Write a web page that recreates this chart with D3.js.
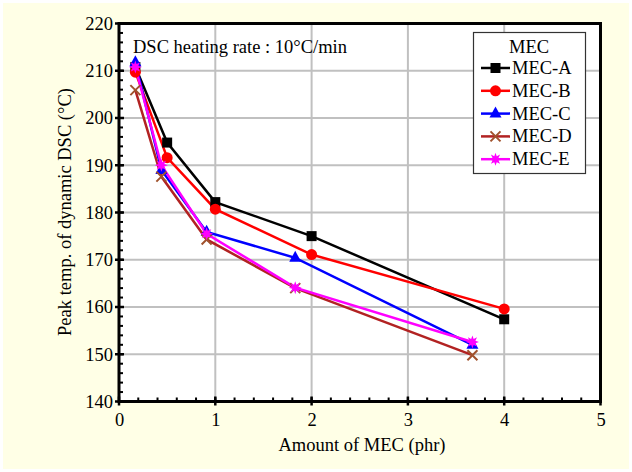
<!DOCTYPE html>
<html><head><meta charset="utf-8">
<script src="https://cdn.jsdelivr.net/npm/d3@7"></script>
<style>
html,body{margin:0;padding:0;background:#fff;}
svg{display:block;}
</style></head>
<body>
<svg id="c" width="632" height="472"></svg>
<script>
const seriesNames = ["MEC-A","MEC-B","MEC-C","MEC-D","MEC-E"];
const seriesColors = ["#000000","#ff0000","#0000ff","#b22222","#ff00ff"];
const seriesMarkers = ["square","circle","triangle","cross","star"];
const xA = [0.17,0.5,1,2,4];
const xC = [0.17,0.44,0.91,1.83,3.67];
const valA = [210.8,194.8,182.2,175.0,157.4];
const valB = [209.7,191.6,180.7,171.1,159.6];
const valC = [211.8,189.0,175.9,170.4,152.0];
const valD = [205.9,187.6,174.3,164.0,149.8];
const valE = [210.8,190.0,175.5,164.1,152.6];
const xTicks = [0,1,2,3,4,5];
const yTicks = [140,150,160,170,180,190,200,210,220];
const xTitle = "Amount of MEC (phr)";
const yTitle = "Peak temp. of dynamic DSC (°C)";
const note = "DSC heating rate : 10°C/min";
const legendTitle = "MEC";

const xs = [xA,xA,xC,xC,xC];
const vals = [valA,valB,valC,valD,valE];
const FF = "Liberation Serif";
const FS = 18.5;

const svg = d3.select("#c");
svg.append("rect").attr("x",3).attr("y",3).attr("width",626).attr("height",466).attr("fill","#ffffe6");

const L=119, R=600.5, T=23.5, B=401.5;
const x = d3.scaleLinear().domain([0,5]).range([L,R]);
const y = d3.scaleLinear().domain([140,220]).range([B,T]);

svg.append("rect").attr("x",L).attr("y",T).attr("width",R-L).attr("height",B-T).attr("fill","#fff");

// grid
const g = svg.append("g");
g.selectAll(".gx").data(xTicks.slice(1,-1)).join("line")
  .attr("x1",d=>x(d)).attr("x2",d=>x(d)).attr("y1",T).attr("y2",B)
  .attr("stroke","#c0c0c0").attr("stroke-width",2);
g.selectAll(".gy").data(yTicks.slice(1,-1)).join("line")
  .attr("y1",d=>y(d)).attr("y2",d=>y(d)).attr("x1",L).attr("x2",R)
  .attr("stroke","#c0c0c0").attr("stroke-width",2);

// axes
const xAxis = d3.axisBottom(x).tickValues(xTicks).tickSize(0).tickPadding(11).tickFormat(d3.format("d"));
const yAxis = d3.axisLeft(y).tickValues(yTicks).tickSize(0).tickPadding(6).tickFormat(d3.format("d"));
const gx = svg.append("g").attr("transform",`translate(0,${B})`).call(xAxis);
const gy = svg.append("g").attr("transform",`translate(${L},0)`).call(yAxis);
[gx,gy].forEach(a=>{
  a.select(".domain").remove();
  a.attr("font-family",null).attr("font-size",null);
  a.selectAll("text").attr("font-family",FF).attr("font-size",FS).attr("fill","#000");
});

// minor ticks (inside)
const xMinor = d3.range(0,5.001,0.2);
svg.append("g").selectAll("line").data(xMinor).join("line")
  .attr("x1",d=>x(d)).attr("x2",d=>x(d)).attr("y1",B).attr("y2",B-4)
  .attr("stroke","#000").attr("stroke-width",2);
svg.append("g").selectAll("line").data(xTicks).join("line")
  .attr("x1",d=>x(d)).attr("x2",d=>x(d)).attr("y1",B+4).attr("y2",B-5)
  .attr("stroke","#000").attr("stroke-width",2.5);
const yMinor = d3.range(140,220.001,2);
svg.append("g").selectAll("line").data(yMinor).join("line")
  .attr("y1",d=>y(d)).attr("y2",d=>y(d)).attr("x1",L).attr("x2",L+4)
  .attr("stroke","#000").attr("stroke-width",2);
svg.append("g").selectAll("line").data(yTicks).join("line")
  .attr("y1",d=>y(d)).attr("y2",d=>y(d)).attr("x1",L-4).attr("x2",L+5)
  .attr("stroke","#000").attr("stroke-width",2.5);

// frame
svg.append("rect").attr("x",L).attr("y",T).attr("width",R-L).attr("height",B-T)
  .attr("fill","none").attr("stroke","#000").attr("stroke-width",3);

// titles
svg.append("text").attr("x",362).attr("y",451).attr("text-anchor","middle").attr("font-family",FF).attr("font-size",FS).text(xTitle);
svg.append("text").attr("transform",`translate(71,212) rotate(-90)`).attr("text-anchor","middle").attr("font-family",FF).attr("font-size",FS).text(yTitle);
svg.append("text").attr("x",133).attr("y",53).attr("font-family",FF).attr("font-size",FS).text(note);

// marker drawing
function starPath(cx,cy,ro,ri){
  let p=[];
  for(let k=0;k<16;k++){const a=k*Math.PI/8 - Math.PI/2;const r=k%2?ri:ro;p.push([cx+r*Math.cos(a),cy+r*Math.sin(a)]);}
  return "M"+p.map(q=>q.join(",")).join("L")+"Z";
}
function drawMarker(sel, type, color, cx, cy){
  if(type==="square") sel.append("rect").attr("x",cx-5).attr("y",cy-5).attr("width",10).attr("height",10).attr("fill",color);
  else if(type==="circle") sel.append("circle").attr("cx",cx).attr("cy",cy).attr("r",5.5).attr("fill",color);
  else if(type==="triangle") sel.append("path").attr("d",`M${cx},${cy-7}L${cx+6},${cy+4}L${cx-6},${cy+4}Z`).attr("fill",color);
  else if(type==="cross") sel.append("path").attr("d",`M${cx-5},${cy-5}L${cx+5},${cy+5}M${cx-5},${cy+5}L${cx+5},${cy-5}`).attr("stroke","#a0522d").attr("stroke-width",2);
  else if(type==="star") sel.append("path").attr("d",starPath(cx,cy,6.5,3.2)).attr("fill",color);
}

const line = d3.line();
seriesNames.forEach((name,i)=>{
  const pts = vals[i].map((v,j)=>[x(xs[i][j]),y(v)]);
  svg.append("path").attr("d",line(pts)).attr("fill","none").attr("stroke",seriesColors[i]).attr("stroke-width",2.5);
});
seriesNames.forEach((name,i)=>{
  const gm = svg.append("g");
  vals[i].forEach((v,j)=>drawMarker(gm,seriesMarkers[i],seriesColors[i],x(xs[i][j]),y(v)));
});

// legend
const lg = svg.append("g");
lg.append("rect").attr("x",473.5).attr("y",32.5).attr("width",112).attr("height",141).attr("fill","#fff").attr("stroke","#333").attr("stroke-width",1.2);
lg.append("text").attr("x",529).attr("y",53).attr("text-anchor","middle").attr("font-family",FF).attr("font-size",FS).text(legendTitle);
seriesNames.forEach((name,i)=>{
  const yy = 68 + i*22.8;
  lg.append("line").attr("x1",481).attr("x2",510).attr("y1",yy).attr("y2",yy).attr("stroke",seriesColors[i]).attr("stroke-width",2.5);
  drawMarker(lg,seriesMarkers[i],seriesColors[i],495.5,yy);
  lg.append("text").attr("x",512).attr("y",yy+6).attr("font-family",FF).attr("font-size",FS).text(name);
});
</script>
</body></html>
